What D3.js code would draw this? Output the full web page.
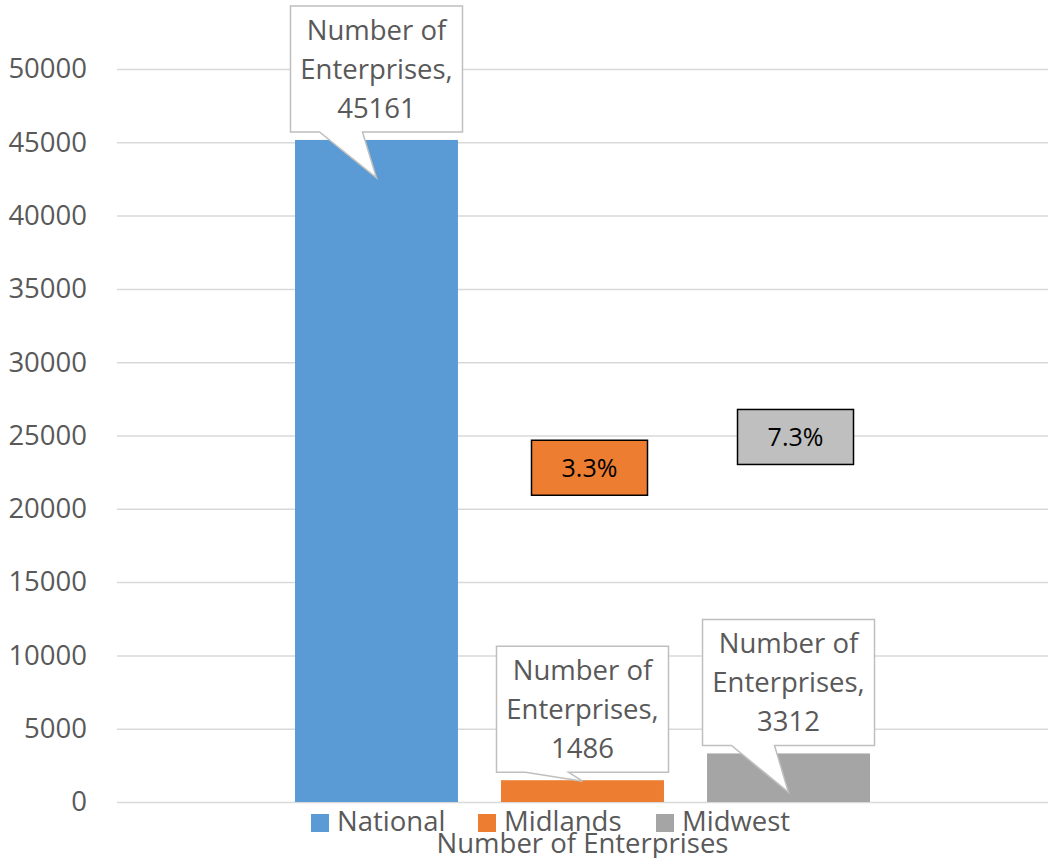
<!DOCTYPE html>
<html>
<head>
<meta charset="utf-8">
<script src="https://cdn.jsdelivr.net/npm/d3@7"></script>
<style>
  body { margin: 0; background: #fff; }
  text { font-family: "Open Sans", "Noto Sans", sans-serif; }
</style>
</head>
<body>
<svg id="chart"></svg>
<script>
// data
var categories = ["Number of Enterprises"];
var seriesNames = ["National", "Midlands", "Midwest"];
var seriesValues = [45161, 1486, 3312];
var yTicks = [0, 5000, 10000, 15000, 20000, 25000, 30000, 35000, 40000, 45000, 50000];

var colors = ["#5B9BD5", "#ED7D31", "#A5A5A5"];
var pctBoxFill = [null, "#ED7D31", "#BFBFBF"];

function drawChart() {
    var svgWidth = 1050, svgHeight = 858;
    var margin = { top: 69, right: 2, bottom: 56, left: 117 };
    var width = svgWidth - margin.left - margin.right;
    var height = svgHeight - margin.top - margin.bottom;

    var svg = d3.select("#chart").attr("width", svgWidth).attr("height", svgHeight);
    var g = svg.append("g").attr("transform", "translate(" + margin.left + "," + margin.top + ")");

    var y = d3.scaleLinear().domain([0, 50000]).range([height, 0]);
    var x0 = d3.scaleBand().domain(categories).range([0, width]).paddingInner(0).paddingOuter(0.3096);
    var x1 = d3.scaleBand().domain(seriesNames).range([0, x0.bandwidth()]).paddingInner(0.209).paddingOuter(0);

    // gridlines
    g.append("g")
        .selectAll("line")
        .data(yTicks)
        .join("line")
        .attr("x1", 0)
        .attr("x2", width)
        .attr("y1", function(d) { return y(d) + 0.5; })
        .attr("y2", function(d) { return y(d) + 0.5; })
        .attr("stroke", "#D9D9D9")
        .attr("stroke-width", 1.5);

    // left axis labels
    var yAxis = g.append("g")
        .attr("transform", "translate(-30,0)")
        .call(d3.axisLeft(y).tickValues(yTicks).tickSize(0).tickPadding(0).tickFormat(d3.format("d")));
    yAxis.select(".domain").remove();
    yAxis.selectAll("text")
        .attr("fill", "#595959")
        .style("font-family", "'Open Sans', sans-serif")
        .style("font-size", "27.5px");

    var groupX = x0(categories[0]);

    // bars
    var bars = seriesNames.map(function(s, i) {
        return { name: s, value: seriesValues[i], color: colors[i], i: i };
    });
    g.selectAll("rect.bar")
        .data(bars)
        .join("rect")
        .attr("class", "bar")
        .attr("x", function(d) { return groupX + x1(d.name); })
        .attr("y", function(d) { return y(d.value); })
        .attr("width", x1.bandwidth())
        .attr("height", function(d) { return height - y(d.value); })
        .attr("fill", function(d) { return d.color; });

    // callouts with value labels
    var boxW = 172, boxH = 126, gap = 8;
    var tipDepth = [38, 1, 39];
    bars.forEach(function(d) {
        var cx = groupX + x1(d.name) + x1.bandwidth() / 2;
        var top = y(d.value);
        var bBottom = top - gap, bTop = bBottom - boxH;
        var l = cx - boxW / 2, r = cx + boxW / 2;
        var tipX = cx, tipY = top + tipDepth[d.i];
        var p = d3.path();
        p.moveTo(l, bTop);
        p.lineTo(r, bTop);
        p.lineTo(r, bBottom);
        p.lineTo(cx - 14, bBottom);
        p.lineTo(tipX, tipY);
        p.lineTo(cx - 57, bBottom);
        p.lineTo(l, bBottom);
        p.closePath();
        g.append("path")
            .attr("d", p.toString())
            .attr("fill", "#fff")
            .attr("stroke", "#BFBFBF")
            .attr("stroke-width", 1.5);
        var lines = ["Number of", "Enterprises,", String(d.value)];
        lines.forEach(function(t, k) {
            g.append("text")
                .attr("x", cx)
                .attr("y", bTop + 34 + k * 39)
                .attr("text-anchor", "middle")
                .attr("fill", "#595959")
                .style("font-size", "27.5px")
                .text(t);
        });
    });

    // share of national boxes
    var pctAnchor = [null, 22800, 24900];
    var pctW = 116, pctH = 55;
    bars.forEach(function(d) {
        if (d.i === 0) return;
        var cx = groupX + x1(d.name) + x1.bandwidth() / 2 + 7;
        var cy = y(pctAnchor[d.i]);
        var pct = (d.value / seriesValues[0] * 100).toFixed(1) + "%";
        g.append("rect")
            .attr("x", cx - pctW / 2)
            .attr("y", cy - pctH / 2)
            .attr("width", pctW)
            .attr("height", pctH)
            .attr("fill", pctBoxFill[d.i])
            .attr("stroke", "#000")
            .attr("stroke-width", 1.5);
        g.append("text")
            .attr("x", cx)
            .attr("y", cy + 9.5)
            .attr("text-anchor", "middle")
            .attr("fill", "#000")
            .style("font-size", "25px")
            .text(pct);
    });

    // legend
    var legend = svg.append("g");
    var lx = [311, 478, 656];
    seriesNames.forEach(function(s, i) {
        legend.append("rect")
            .attr("x", lx[i])
            .attr("y", 814)
            .attr("width", 18)
            .attr("height", 18)
            .attr("fill", colors[i]);
        legend.append("text")
            .attr("x", lx[i] + 26)
            .attr("y", 831)
            .attr("fill", "#595959")
            .style("font-size", "27.5px")
            .text(s);
    });

    // category axis title
    svg.append("text")
        .attr("x", margin.left + groupX + x0.bandwidth() / 2)
        .attr("y", 853)
        .attr("text-anchor", "middle")
        .attr("fill", "#595959")
        .style("font-size", "27.5px")
        .text(categories[0]);
}

drawChart();
</script>
</body>
</html>
